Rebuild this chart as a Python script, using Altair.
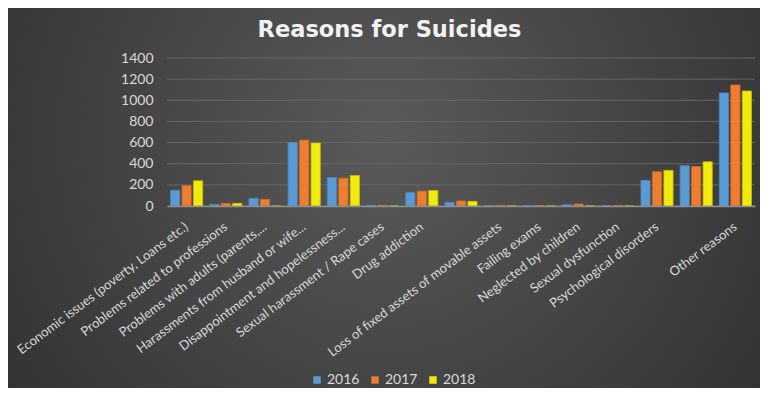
import altair as alt
import pandas as pd

categories = [
    "Economic issues (poverty, Loans etc.)",
    "Problems related to professions",
    "Problems with adults (parents,...",
    "Harassments from husband or wife...",
    "Disappointment and hopelessness...",
    "Sexual harassment / Rape cases",
    "Drug addiction",
    " ",
    "Loss of fixed assets of movable assets",
    "Failing exams",
    "Neglected by children",
    "Sexual dysfunction",
    "Psychological disorders",
    "  ",
    "Other reasons",
]
years = ["2016", "2017", "2018"]
v2016 = [149, 16, 73, 602, 269, 6, 127, 35, 5, 4, 12, 5, 242, 381, 1070]
v2017 = [193, 25, 63, 624, 263, 6, 140, 48, 5, 4, 19, 5, 324, 374, 1145]
v2018 = [238, 25, 0, 596, 288, 0, 146, 44, 0, 0, 0, 0, 337, 418, 1088]
y_ticks = [0, 200, 400, 600, 800, 1000, 1200, 1400]

fill_colors = ["#5b9bd5", "#ed7d31", "#f2ea0c"]
stroke_colors = ["#4f86bb", "#cf6a26", "#c9c000"]

rows = []
for yr, vals in zip(years, [v2016, v2017, v2018]):
    for c, v in zip(categories, vals):
        rows.append({"category": c, "year": yr, "value": v})
df = pd.DataFrame(rows)
grid_df = pd.DataFrame({"value": y_ticks})

W, H = 588, 148
PL, PT, PR, PB = 159, 50, 5, 182

y_scale = alt.Scale(domain=[0, 1400], nice=False)
y_axis = alt.Axis(title=None, values=y_ticks, format="d", grid=False,
                  domain=False, ticks=False, labelPadding=14, labelFont="Lato",
                  labelFontSize=14, labelColor="#d9d9d9", zindex=1)

bg = alt.Chart(alt.Data(values=[{}])).mark_rect(
    fill=alt.Gradient(
        gradient="radial",
        stops=[alt.GradientStop(color="#5a5a5a", offset=0),
               alt.GradientStop(color="#2b2b2b", offset=1)],
        x1=0.5, y1=0.42, x2=0.5, y2=0.42, r1=0, r2=0.72,
    )
).encode(
    x=alt.value(-PL), x2=alt.value(W + PR),
    y=alt.value(-PT), y2=alt.value(H + PB),
)

grid = alt.Chart(grid_df).mark_rule(color="#666666", strokeWidth=1).encode(
    y=alt.Y("value:Q", scale=y_scale, axis=y_axis),
)

bars = alt.Chart(df).mark_bar(strokeWidth=1, strokeOpacity=0.8).encode(
    x=alt.X("category:N", sort=categories,
            scale=alt.Scale(paddingInner=0.18, paddingOuter=0.09),
            axis=alt.Axis(title=None, labelAngle=-37, labelAlign="right",
                          labelBaseline="middle", labelPadding=19,
                          labelFont="Lato", labelFontSize=13,
                          labelColor="#d9d9d9", labelLimit=400,
                          ticks=False, domainColor="#8f8f8f", domainWidth=1.5,
                          zindex=1, grid=False)),
    xOffset=alt.XOffset("year:N", sort=years, scale=alt.Scale(paddingInner=0.2)),
    y=alt.Y("value:Q", scale=y_scale, axis=y_axis),
    color=alt.Color("year:N", sort=years,
                    scale=alt.Scale(domain=years, range=fill_colors),
                    legend=alt.Legend(title=None, orient="none", legendX=143,
                                      legendY=315, direction="horizontal",
                                      symbolType="square", symbolSize=55,
                                      symbolStrokeWidth=0,
                                      labelColor="#d9d9d9", labelFont="Lato",
                                      labelFontSize=14, columnPadding=8,
                                      labelOffset=3)),
    stroke=alt.Stroke("year:N", sort=years,
                      scale=alt.Scale(domain=years, range=stroke_colors),
                      legend=None),
)

chart = alt.layer(bg, grid, bars).properties(
    width=W, height=H,
    padding={"left": PL, "top": PT, "right": PR, "bottom": PB},
    autosize=alt.AutoSizeParams(type="none"),
    title=alt.Title("Reasons for Suicides", font="DejaVu Sans", fontSize=22.5,
                    fontWeight="bold", color="#f2f2f2", anchor="middle",
                    baseline="alphabetic", dx=-71.5, dy=51, offset=0),
).configure_view(stroke=None).configure(background="#3a3a3a")

chart.save("out.html", embed_options={"renderer": "svg", "actions": False})
